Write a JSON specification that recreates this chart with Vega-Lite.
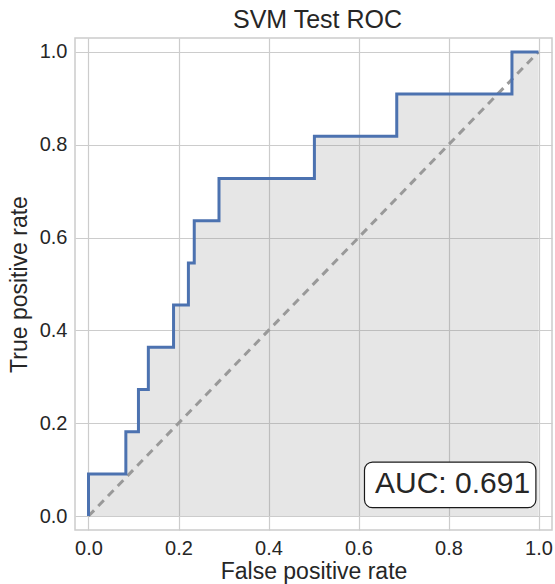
{
  "$schema": "https://vega.github.io/schema/vega-lite/v6.json",
  "width": 477,
  "height": 492,
  "autosize": {"type": "none"},
  "padding": {"left": 75, "top": 38, "right": 3, "bottom": 54},
  "background": "white",
  "title": {"text": "SVM Test ROC", "fontSize": 25, "fontWeight": "normal", "color": "#262626", "font": "Liberation Sans", "offset": 5, "dx": 4},
  "config": {
    "font": "Liberation Sans",
    "view": {"stroke": "#cccccc", "strokeWidth": 1.5},
    "axis": {
      "domain": false,
      "ticks": false,
      "grid": true,
      "gridColor": "#cccccc",
      "gridWidth": 1.2,
      "labelFontSize": 20,
      "labelColor": "#262626",
      "labelFont": "Liberation Sans",
      "titleFontSize": 23,
      "titleFontWeight": "normal",
      "titleColor": "#262626",
      "titleFont": "Liberation Sans",
      "labelPadding": 8
    }
  },
  "datasets": {
    "roc": [
      {"i": 0, "fpr": 0.0, "tpr": 0.0},
      {"i": 1, "fpr": 0.0, "tpr": 0.0909},
      {"i": 2, "fpr": 0.083, "tpr": 0.0909},
      {"i": 3, "fpr": 0.083, "tpr": 0.1818},
      {"i": 4, "fpr": 0.111, "tpr": 0.1818},
      {"i": 5, "fpr": 0.111, "tpr": 0.2727},
      {"i": 6, "fpr": 0.133, "tpr": 0.2727},
      {"i": 7, "fpr": 0.133, "tpr": 0.3636},
      {"i": 8, "fpr": 0.189, "tpr": 0.3636},
      {"i": 9, "fpr": 0.189, "tpr": 0.4545},
      {"i": 10, "fpr": 0.222, "tpr": 0.4545},
      {"i": 11, "fpr": 0.222, "tpr": 0.5455},
      {"i": 12, "fpr": 0.235, "tpr": 0.5455},
      {"i": 13, "fpr": 0.235, "tpr": 0.6364},
      {"i": 14, "fpr": 0.29, "tpr": 0.6364},
      {"i": 15, "fpr": 0.29, "tpr": 0.7273},
      {"i": 16, "fpr": 0.502, "tpr": 0.7273},
      {"i": 17, "fpr": 0.502, "tpr": 0.8182},
      {"i": 18, "fpr": 0.685, "tpr": 0.8182},
      {"i": 19, "fpr": 0.685, "tpr": 0.9091},
      {"i": 20, "fpr": 0.941, "tpr": 0.9091},
      {"i": 21, "fpr": 0.941, "tpr": 1.0},
      {"i": 22, "fpr": 1.0, "tpr": 1.0}
    ],
    "diag": [
      {"i": 0, "fpr": 0.0, "tpr": 0.0},
      {"i": 1, "fpr": 1.0, "tpr": 1.0}
    ],
    "auc": [
      {"label": "AUC: 0.691"}
    ]
  },
  "layer": [
    {
      "data": {"name": "roc"},
      "mark": {"type": "area", "color": "#808080", "opacity": 0.2},
      "encoding": {
        "x": {"field": "fpr", "type": "quantitative", "scale": {"domain": [-0.03, 1.03], "nice": false, "zero": false},
              "axis": {"title": "False positive rate", "values": [0, 0.2, 0.4, 0.6, 0.8, 1.0], "format": ".1f", "titlePadding": 2}},
        "y": {"field": "tpr", "type": "quantitative", "stack": null, "scale": {"domain": [-0.03, 1.03], "nice": false, "zero": false},
              "axis": {"title": "True positive rate", "values": [0, 0.2, 0.4, 0.6, 0.8, 1.0], "format": ".1f", "titlePadding": 8}},
        "y2": {"datum": 0}
      }
    },
    {
      "data": {"name": "diag"},
      "mark": {"type": "line", "color": "#999999", "strokeWidth": 3, "strokeDash": [8, 6]},
      "encoding": {
        "x": {"field": "fpr", "type": "quantitative"},
        "y": {"field": "tpr", "type": "quantitative"},
        "order": {"field": "i", "type": "quantitative"}
      }
    },
    {
      "data": {"name": "roc"},
      "mark": {"type": "line", "color": "#4c72b0", "strokeWidth": 3},
      "encoding": {
        "x": {"field": "fpr", "type": "quantitative"},
        "y": {"field": "tpr", "type": "quantitative"},
        "order": {"field": "i", "type": "quantitative"}
      }
    },
    {
      "data": {"name": "auc"},
      "mark": {"type": "rect", "fill": "white", "stroke": "#1a1a1a", "strokeWidth": 1.2, "cornerRadius": 8},
      "encoding": {
        "x": {"datum": 0.6133, "type": "quantitative"},
        "x2": {"datum": 0.9942},
        "y": {"datum": 0.0181, "type": "quantitative"},
        "y2": {"datum": 0.1163}
      }
    },
    {
      "data": {"name": "auc"},
      "mark": {"type": "text", "fontSize": 30, "color": "#262626", "align": "center", "baseline": "alphabetic"},
      "encoding": {
        "x": {"datum": 0.809, "type": "quantitative"},
        "y": {"datum": 0.0504, "type": "quantitative"},
        "text": {"field": "label"}
      }
    }
  ]
}
